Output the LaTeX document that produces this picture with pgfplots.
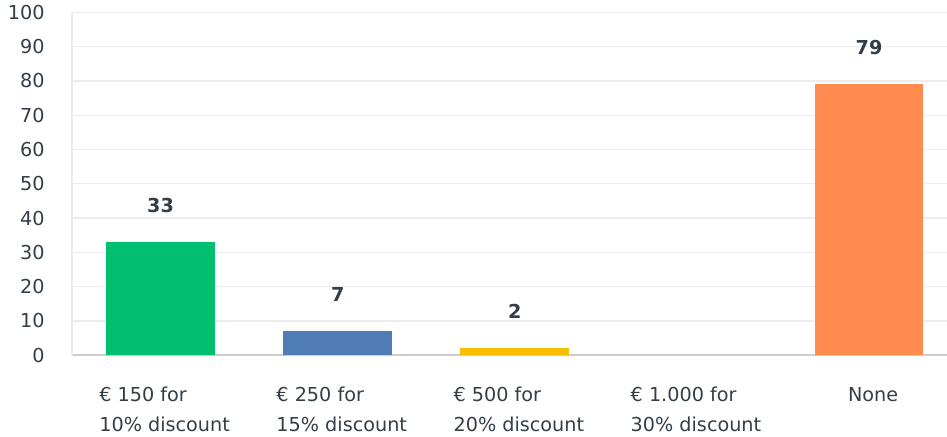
\documentclass[border=0pt]{standalone}
\usepackage{pgfplots}
\pgfplotsset{compat=1.18}
\usepackage{fontspec}
\setmainfont{DejaVu Sans}
\definecolor{txt}{HTML}{333E48}
\definecolor{gridc}{HTML}{ECECEC}
\definecolor{botax}{HTML}{CCCCCC}
\definecolor{gr}{HTML}{00BF6F}
\definecolor{bl}{HTML}{507CB6}
\definecolor{ye}{HTML}{F9BE00}
\definecolor{or}{HTML}{FF8B4F}
\begin{document}
\begin{tikzpicture}
\path[use as bounding box] (0,0) rectangle (710pt,327pt);
\begin{axis}[
  at={(54pt,60.75pt)}, anchor=south west,
  scale only axis, width=656pt, height=257pt,
  xmin=-0.5, xmax=4.44, ymin=0, ymax=100,
  ytick distance=10,
  xtick={0,1,2,3,4},
  xticklabels={{€ 150 for\\10\% discount},{€ 250 for\\15\% discount},{€ 500 for\\20\% discount},{€ 1.000 for\\30\% discount},{None}},
  xticklabel style={align=left, font=\fontsize{14.4}{22.5}\selectfont, text=txt, anchor=north, yshift=-20.5pt, xshift=3pt},
  yticklabel style={font=\fontsize{14.4}{17}\selectfont, text=txt, anchor=east, xshift=-17pt},
  /pgf/number format/assume math mode=true,
  major tick length=0pt,
  axis lines*=left,
  x axis line style={draw=botax, line width=1pt, -},
  y axis line style={draw=gridc, line width=1pt, -},
  ymajorgrids, grid style={draw=gridc, line width=1pt},
  ybar, bar width=0.614, bar shift=0pt,
  nodes near coords style={font=\fontsize{14.4}{17}\selectfont\bfseries, text=txt, yshift=18.5pt},
  clip=false,
]
\addplot[fill=gr, draw=none, nodes near coords] coordinates {(0,33)};
\addplot[fill=bl, draw=none, nodes near coords] coordinates {(1,7)};
\addplot[fill=ye, draw=none, nodes near coords] coordinates {(2,2)};
\addplot[fill=none, draw=none] coordinates {(3,0)};
\addplot[fill=or, draw=none, nodes near coords] coordinates {(4,79)};
\end{axis}
\end{tikzpicture}
\end{document}
